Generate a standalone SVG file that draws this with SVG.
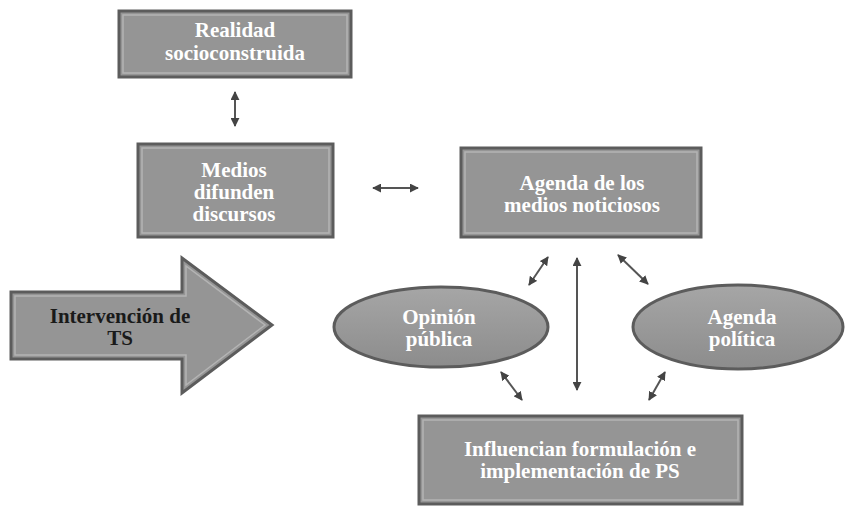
<svg xmlns="http://www.w3.org/2000/svg" width="846" height="506" viewBox="0 0 846 506">
<defs>
<marker id="ah" viewBox="0 0 10 10" refX="9" refY="5" markerWidth="4.5" markerHeight="4.5" orient="auto-start-reverse" markerUnits="strokeWidth">
<path d="M0,0 L10,5 L0,10 z" fill="#444"/>
</marker>
<linearGradient id="eg" x1="0" y1="0" x2="0" y2="1">
<stop offset="0" stop-color="#a6a6a6"/>
<stop offset="1" stop-color="#8c8c8c"/>
</linearGradient>
</defs>
<style>
.box{fill:#959595;stroke:#5c5c5c;stroke-width:3}
.inner{fill:none;stroke:#b4b4b4;stroke-width:1.5}
.ell{fill:url(#eg);stroke:#5c5c5c;stroke-width:3}
.t{font-family:"Liberation Serif",serif;font-weight:bold;font-size:21px;fill:#fff;text-anchor:middle}
.tb{font-family:"Liberation Serif",serif;font-weight:bold;font-size:21px;fill:#1a1a1a;text-anchor:middle}
.c{stroke:#555;stroke-width:2;fill:none;marker-start:url(#ah);marker-end:url(#ah)}
</style>
<rect width="846" height="506" fill="#fff"/>
<g id="realidad">
<rect class="box" x="119" y="11" width="232" height="66"/>
<rect class="inner" x="123" y="15" width="224" height="58"/>
<text class="t" x="235" y="37">Realidad</text>
<text class="t" x="235" y="60">socioconstruida</text>
</g>
<g id="medios">
<rect class="box" x="138" y="144" width="195" height="93"/>
<rect class="inner" x="142" y="148" width="187" height="85"/>
<text class="t" x="234" y="177">Medios</text>
<text class="t" x="234" y="199">difunden</text>
<text class="t" x="234" y="221">discursos</text>
</g>
<g id="agenda-medios">
<rect class="box" x="461" y="148" width="240" height="89"/>
<rect class="inner" x="465" y="152" width="232" height="81"/>
<text class="t" x="582" y="190">Agenda de los</text>
<text class="t" x="582" y="212">medios noticiosos</text>
</g>
<g id="intervencion">
<path class="box" d="M11,292 L182,292 L182,258 L272,325 L182,393 L182,359 L11,359 Z"/>
<path class="inner" d="M15,296 L186,296 L186,266 L265,325 L186,385 L186,355 L15,355 Z"/>
<text class="tb" x="120" y="323">Intervención de</text>
<text class="tb" x="120" y="345">TS</text>
</g>
<g id="opinion">
<ellipse class="ell" cx="441" cy="327" rx="107" ry="40"/>
<text class="t" x="439" y="324">Opinión</text>
<text class="t" x="439" y="346">pública</text>
</g>
<g id="agenda-politica">
<ellipse class="ell" cx="738" cy="327" rx="105" ry="42"/>
<text class="t" x="742" y="324">Agenda</text>
<text class="t" x="742" y="346">política</text>
</g>
<g id="influencian">
<rect class="box" x="419" y="416" width="323" height="88"/>
<rect class="inner" x="423" y="420" width="315" height="80"/>
<text class="t" x="580" y="456">Influencian formulación e</text>
<text class="t" x="580" y="478">implementación de PS</text>
</g>
<g id="connectors">
<line class="c" x1="235" y1="92" x2="235" y2="126"/>
<line class="c" x1="373" y1="188" x2="418" y2="188"/>
<line class="c" x1="529" y1="285" x2="548" y2="257"/>
<line class="c" x1="577" y1="258" x2="577" y2="390"/>
<line class="c" x1="618" y1="255" x2="648" y2="284"/>
<line class="c" x1="501" y1="372" x2="522" y2="400"/>
<line class="c" x1="649" y1="400" x2="665" y2="372"/>
</g>
</svg>
